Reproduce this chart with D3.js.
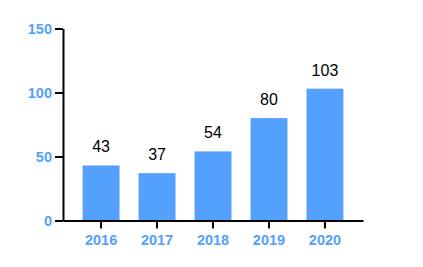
<!DOCTYPE html>
<html>
<head>
<meta charset="utf-8">
<script src="https://cdn.jsdelivr.net/npm/d3@7"></script>
<style>
  body { margin: 0; background: #fff; }
  svg { display: block; font-family: "Liberation Sans", Arial, sans-serif; }
</style>
</head>
<body>
<svg id="chart" width="423" height="267"></svg>
<script>
// data
const years = ["2016", "2017", "2018", "2019", "2020"];
const counts = [43, 37, 54, 80, 103];
const yTicks = [0, 50, 100, 150];

const svg = d3.select("#chart");
const blue = "#53a1fd";

const x = d3.scaleBand()
    .domain(years)
    .range([63, 363])
    .paddingInner(0.34)
    .paddingOuter(0.35);

const y = d3.scaleLinear()
    .domain([0, 150])
    .range([220.5, 28.5]);

// bars
svg.append("g")
  .selectAll("rect")
  .data(years)
  .enter()
  .append("rect")
    .attr("x", d => x(d))
    .attr("y", (d, i) => y(counts[i]))
    .attr("width", x.bandwidth())
    .attr("height", (d, i) => y(0) - y(counts[i]))
    .style("fill", blue);

// value labels
svg.append("g")
  .selectAll("text")
  .data(years)
  .enter()
  .append("text")
    .attr("x", d => x(d) + x.bandwidth() / 2)
    .attr("y", (d, i) => y(counts[i]) - 13)
    .attr("text-anchor", "middle")
    .style("font-size", "16px")
    .style("fill", "#000")
    .text((d, i) => counts[i]);

// y axis
const yAxis = svg.append("g")
    .attr("transform", "translate(63,0)")
    .call(d3.axisLeft(y).tickValues(yTicks).tickSize(8).tickSizeOuter(0).tickPadding(3));

// x axis
const xAxis = svg.append("g")
    .attr("transform", "translate(0,220.5)")
    .call(d3.axisBottom(x).tickSize(8).tickSizeOuter(0).tickPadding(6));

[yAxis, xAxis].forEach(g => {
  g.select(".domain").style("stroke", "#000").style("stroke-width", 2);
  g.selectAll(".tick line").style("stroke", "#000").style("stroke-width", 2);
  g.selectAll(".tick text")
    .style("fill", blue)
    .style("font-size", "14.5px")
    .style("font-weight", "bold")
    .style("font-family", "'Liberation Sans', Arial, sans-serif");
});
</script>
</body>
</html>
